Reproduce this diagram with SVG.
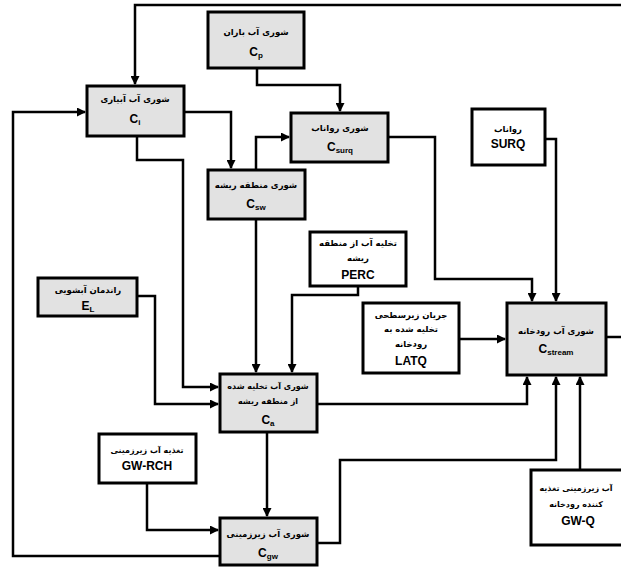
<svg xmlns="http://www.w3.org/2000/svg" width="621" height="568" viewBox="0 0 621 568">
<style>
.box{stroke:#000;stroke-width:3}
.sh{fill:#e2e2e2}
.wh{fill:#fff}
.fa{font-family:"DejaVu Sans",sans-serif;font-weight:bold;font-size:8.5px;fill:#000;text-anchor:middle}
.sm{font-size:8px}
.la{font-family:"Liberation Sans",Arial,sans-serif;font-weight:bold;font-size:12px;fill:#000;text-anchor:middle}
.sub{font-size:8px}
.con path{fill:none;stroke:#000;stroke-width:2.5;marker-end:url(#ah)}
.con path.na{marker-end:none}
</style>
<defs>
<marker id="ah" markerUnits="userSpaceOnUse" markerWidth="9" markerHeight="9" refX="8" refY="4.5" orient="auto">
<path d="M0,0 L9,4.5 L0,9 Z" fill="#000"/>
</marker>
</defs>
<rect width="621" height="568" fill="#fff"/>
<g id="connectors" class="con">
<path d="M621,5 H135 V84"/>
<path d="M220,556 H13 V112 H85"/>
<path d="M184,112 H231 V168"/>
<path d="M137,136 V160 H183 V387 H218"/>
<path d="M257,68 V85 H340 V111"/>
<path d="M256,170 V137 H289"/>
<path d="M388,137 H435 V279 H532 V301"/>
<path d="M545,139 H556 V301"/>
<path d="M459,339 H505"/>
<path class="na" d="M606,337 H621"/>
<path d="M358,286 V295 H292 V372"/>
<path d="M256,219 V372"/>
<path d="M137,296 H155 V404 H218"/>
<path d="M317,404 H527 V377"/>
<path d="M267,432 V516"/>
<path d="M147,483 V530 H218"/>
<path d="M317,543 H340 V460 H556 V377"/>
<path d="M580,470 V377"/>
</g>
<g id="rain">
<rect class="box sh" x="208" y="12" width="96" height="56"/>
<text class="fa" x="256" y="35">شوری آب باران</text>
<text class="la" x="256" y="56">C<tspan class="sub" dy="2">p</tspan></text>
</g>
<g id="irrigation">
<rect class="box sh" x="87" y="86" width="97" height="50"/>
<text class="fa" x="135" y="102">شوری آب آبیاری</text>
<text class="la" x="135" y="123">C<tspan class="sub" dy="2">i</tspan></text>
</g>
<g id="csurq">
<rect class="box sh" x="291" y="113" width="97" height="49"/>
<text class="fa" x="340" y="131">شوری رواناب</text>
<text class="la" x="340" y="151">C<tspan class="sub" dy="2">surq</tspan></text>
</g>
<g id="csw">
<rect class="box sh" x="208" y="170" width="97" height="49"/>
<text class="fa" x="256" y="188">شوری منطقه ریشه</text>
<text class="la" x="256" y="208">C<tspan class="sub" dy="2">sw</tspan></text>
</g>
<g id="surq">
<rect class="box wh" x="472" y="109" width="73" height="56"/>
<text class="fa" x="508" y="132">رواناب</text>
<text class="la" x="508" y="148">SURQ</text>
</g>
<g id="perc">
<rect class="box wh" x="310" y="232" width="96" height="54"/>
<text class="fa" x="358" y="246">تخلیه آب از منطقه</text>
<text class="fa" x="358" y="261">ریشه</text>
<text class="la" x="358" y="279">PERC</text>
</g>
<g id="el">
<rect class="box sh" x="38" y="278" width="99" height="38"/>
<text class="fa" x="88" y="293">راندمان آبشویی</text>
<text class="la" x="88" y="310">E<tspan class="sub" dy="2">L</tspan></text>
</g>
<g id="latq">
<rect class="box wh" x="363" y="303" width="96" height="70"/>
<text class="fa" x="411" y="318">جریان زیرسطحی</text>
<text class="fa" x="411" y="332">تخلیه شده به</text>
<text class="fa" x="411" y="347">رودخانه</text>
<text class="la" x="411" y="365">LATQ</text>
</g>
<g id="cstream">
<rect class="box sh" x="507" y="303" width="99" height="72"/>
<text class="fa" x="556" y="334">شوری آب رودخانه</text>
<text class="la" x="556" y="353">C<tspan class="sub" dy="2">stream</tspan></text>
</g>
<g id="ca">
<rect class="box sh" x="220" y="374" width="97" height="58"/>
<text class="fa sm" x="268" y="389">شوری آب تخلیه شده</text>
<text class="fa sm" x="268" y="404">از منطقه ریشه</text>
<text class="la" x="268" y="424">C<tspan class="sub" dy="2">a</tspan></text>
</g>
<g id="gwrch">
<rect class="box wh" x="99" y="434" width="97" height="49"/>
<text class="fa sm" x="147" y="453">تغذیه آب زیرزمینی</text>
<text class="la" x="147" y="470">GW-RCH</text>
</g>
<g id="cgw">
<rect class="box sh" x="220" y="518" width="97" height="47"/>
<text class="fa" x="268" y="537">شوری آب زیرزمینی</text>
<text class="la" x="268" y="557">C<tspan class="sub" dy="2">gw</tspan></text>
</g>
<g id="gwq">
<rect class="box wh" x="531" y="470" width="100" height="75"/>
<text class="fa sm" x="576" y="491">آب زیرزمینی تغذیه</text>
<text class="fa sm" x="576" y="507">کننده رودخانه</text>
<text class="la" x="578" y="525">GW-Q</text>
</g>
</svg>
